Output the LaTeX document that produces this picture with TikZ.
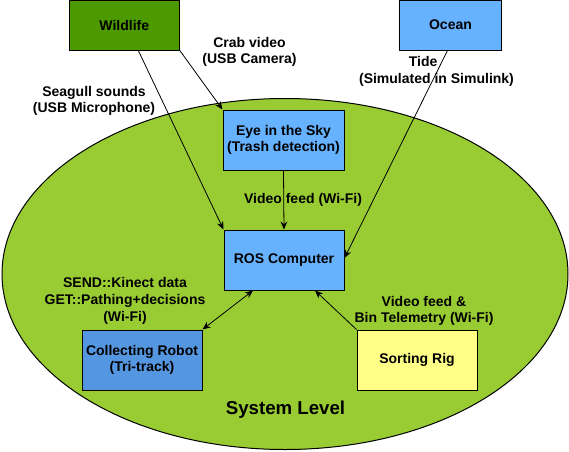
\documentclass[tikz,border=0pt]{standalone}
\usepackage{fontspec}
\setmainfont{Liberation Sans}
\usetikzlibrary{arrows.meta,calc}
\definecolor{wildgreen}{HTML}{4D9900}
\definecolor{skyblue}{HTML}{66B2FF}
\definecolor{robotblue}{HTML}{5596E0}
\definecolor{rigyellow}{HTML}{FFFF88}
\definecolor{sysgreen}{HTML}{99CC33}
\tikzset{
  box/.style={draw=black, line width=0.75pt, inner sep=0pt, align=center,
    font=\fontsize{10.5}{12.5}\selectfont\bfseries},
  lbl/.style={inner sep=0pt, align=center, font=\fontsize{10.5}{12.5}\selectfont\bfseries},
  conn/.style={draw=black, line width=0.6pt, -{Stealth[length=6pt,width=5pt]}},
  bconn/.style={draw=black, line width=0.6pt, {Stealth[length=6pt,width=5pt]}-{Stealth[length=6pt,width=5pt]}}
}
\begin{document}
\begin{tikzpicture}[x=0.75pt,y=-0.75pt]
\useasboundingbox (0,0) rectangle (569,451);
\draw[fill=sysgreen, line width=0.75pt] (285,274) ellipse [x radius=283, y radius=175.5];
\node[box, fill=wildgreen, minimum width=82.5pt, minimum height=37.5pt] (wild) at (124.3,25) {Wildlife};
\node[box, fill=skyblue, minimum width=76.5pt, minimum height=37.5pt] (ocean) at (450.5,25) {Ocean};
\node[box, fill=skyblue, minimum width=90.75pt, minimum height=45pt] (eye) at (283.5,140) {Eye in the Sky\\(Trash detection)};
\node[box, fill=skyblue, minimum width=90pt, minimum height=45pt] (ros) at (284,260) {ROS Computer};
\node[box, fill=robotblue, minimum width=90pt, minimum height=45pt] (coll) at (142,360) {Collecting Robot\\(Tri-track)};
\node[box, fill=rigyellow, minimum width=90pt, minimum height=45pt] (sort) at (417,360) {Sorting Rig};
\node[lbl, font=\fontsize{14}{16}\selectfont\bfseries] (sys) at (285.5,410) {System Level};

\draw[conn] ($(wild.south)+(14,0)$) -- (ros.north west);
\draw[conn] (wild.south east) -- (eye.north west);
\draw[conn] (eye.south) -- (ros.north);
\draw[conn] ($(ocean.south)+(-3,0)$) -- ($(ros.east)+(0,-2)$);
\draw[bconn] (coll.north east) -- ($(ros.south)+(-31,0)$);
\draw[conn] (sort.north west) -- ($(ros.south)+(31,0)$);

\node[lbl] (lcrab) at (249.5,52) {Crab video\\(USB Camera)};
\node[lbl] (lgull) at (94,101) {Seagull sounds\\(USB Microphone)};
\node[lbl] (ltide) at (436.5,71.5) {Tide\hspace*{20pt}\\(Simulated in Simulink)};
\node[lbl] (lvid) at (303,200) {Video feed (Wi-Fi)};
\node[lbl] (lsend) at (125,301) {SEND::Kinect data\\GET::Pathing+decisions\\(Wi-Fi)};
\node[lbl] (lbin) at (424,311) {Video feed \&\\Bin Telemetry (Wi-Fi)};
\end{tikzpicture}
\end{document}
